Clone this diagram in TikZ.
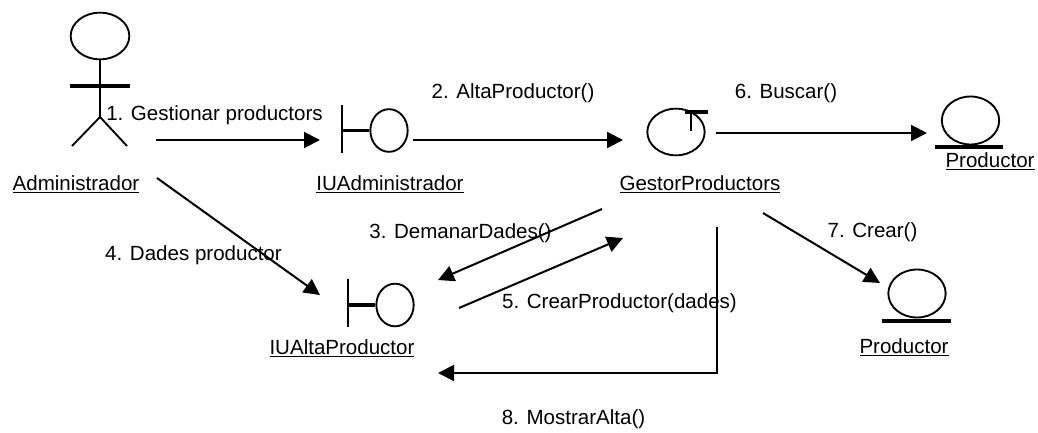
\documentclass[tikz,border=0pt]{standalone}
\usepackage{fontspec}
\setmainfont{Liberation Sans}
\usetikzlibrary{arrows.meta,shapes.geometric}

\tikzset{
  msg/.style={draw,line width=1.5pt,-{Triangle[length=12pt,width=12pt]}},
  icon/.style={draw,line width=1.4pt},
  bar/.style={draw,line width=2.6pt},
  head/.style={ellipse,draw,line width=1.4pt,inner sep=0pt},
  txt/.style={anchor=base,inner sep=0pt,font=\fontsize{15.4}{18}\selectfont}
}

\begin{document}
\begin{tikzpicture}[x=0.75pt,y=-0.75pt]
    \useasboundingbox (0,0) rectangle (1038,432);
    % actor
    \node[head,minimum width=44pt,minimum height=35pt] (actorhead) at (100,36) {};
    \coordinate (actorhip) at (100,117);
    \coordinate (armL) at (70,86);
    \coordinate (armR) at (130,86);
    \coordinate (footL) at (72,146);
    \coordinate (footR) at (127,146);
    \draw[icon] (actorhead.south) -- (actorhip);
    \draw[bar] (armL) -- (armR);
    \draw[icon] (footL) -- (actorhip) -- (footR);
    \node[txt] (admin) at (76,190) {\underline{Administrador}};
    % boundary
    \node[head,minimum width=28pt,minimum height=32pt] (iuadminC) at (389,130.5) {};
    \coordinate (iuadminB) at (342,130.5);
    \coordinate (iuadminT) at (342,105);
    \coordinate (iuadminD) at (342,153);
    \draw[icon] (iuadminT) -- (iuadminD);
    \draw[bar] (iuadminB) -- (iuadminC.west);
    \node[txt] (iuadmin) at (390,190) {\underline{IUAdministrador}};
    % boundary
    \node[head,minimum width=28pt,minimum height=32pt] (iualtaC) at (395,305) {};
    \coordinate (iualtaB) at (348,305);
    \coordinate (iualtaT) at (348,279);
    \coordinate (iualtaD) at (348,327);
    \draw[icon] (iualtaT) -- (iualtaD);
    \draw[bar] (iualtaB) -- (iualtaC.west);
    \node[txt] (iualta) at (342,354) {\underline{IUAltaProductor}};
    % control
    \node[head,minimum width=43pt,minimum height=35pt] (gestorC) at (676,132) {};
    \coordinate (gestorA) at (685,112);
    \coordinate (gestorB) at (708,112);
    \coordinate (gestorM) at (691,112);
    \coordinate (gestorN) at (691,131);
    \draw[bar] (gestorA) -- (gestorB);
    \draw[icon] (gestorM) -- (gestorN);
    \node[txt] (gestor) at (700,190) {\underline{GestorProductors}};
    % entities
    \node[head,minimum width=43pt,minimum height=36pt] (prodAC) at (970.5,120.5) {};
    \coordinate (prodAL) at (935,147);
    \coordinate (prodAR) at (1003,147);
    \draw[bar] (prodAL) -- (prodAR);
    \node[txt] (prodA) at (990,167) {\underline{Productor}};
    \node[head,minimum width=43pt,minimum height=36pt] (prodBC) at (917,293.5) {};
    \coordinate (prodBL) at (882,321);
    \coordinate (prodBR) at (951,321);
    \draw[bar] (prodBL) -- (prodBR);
    \node[txt] (prodB) at (904,353) {\underline{Productor}};
    % messages
    \coordinate (m1a) at (156,140);
    \coordinate (m1b) at (320,140);
    \coordinate (m2a) at (413,140);
    \coordinate (m2b) at (623,140);
    \coordinate (m3a) at (602,209);
    \coordinate (m3b) at (438,280);
    \coordinate (m4a) at (157,178);
    \coordinate (m4b) at (320,295);
    \coordinate (m5a) at (459,308);
    \coordinate (m5b) at (623,238);
    \coordinate (m6a) at (716,133);
    \coordinate (m6b) at (927,133);
    \coordinate (m7a) at (763,213);
    \coordinate (m7b) at (880,283);
    \coordinate (m8a) at (717,227);
    \coordinate (m8c) at (717,373);
    \coordinate (m8b) at (438,373);
    \draw[msg] (m1a) -- (m1b);
    \draw[msg] (m2a) -- (m2b);
    \draw[msg] (m3a) -- (m3b);
    \draw[msg] (m4a) -- (m4b);
    \draw[msg] (m5a) -- (m5b);
    \draw[msg] (m6a) -- (m6b);
    \draw[msg] (m7a) -- (m7b);
    \draw[msg] (m8a) -- (m8c) -- (m8b);
    \node[txt] (l1) at (214.5,120) {1. Gestionar productors};
    \node[txt] (l2) at (513,98) {2. AltaProductor()};
    \node[txt] (l3) at (460.5,238) {3. DemanarDades()};
    \node[txt] (l4) at (193.5,260) {4. Dades productor};
    \node[txt] (l5) at (619.5,308) {5. CrearProductor(dades)};
    \node[txt] (l6) at (786,98) {6. Buscar()};
    \node[txt] (l7) at (872.5,237) {7. Crear()};
    \node[txt] (l8) at (573.5,424) {8. MostrarAlta()};
  \end{tikzpicture}
\end{document}
